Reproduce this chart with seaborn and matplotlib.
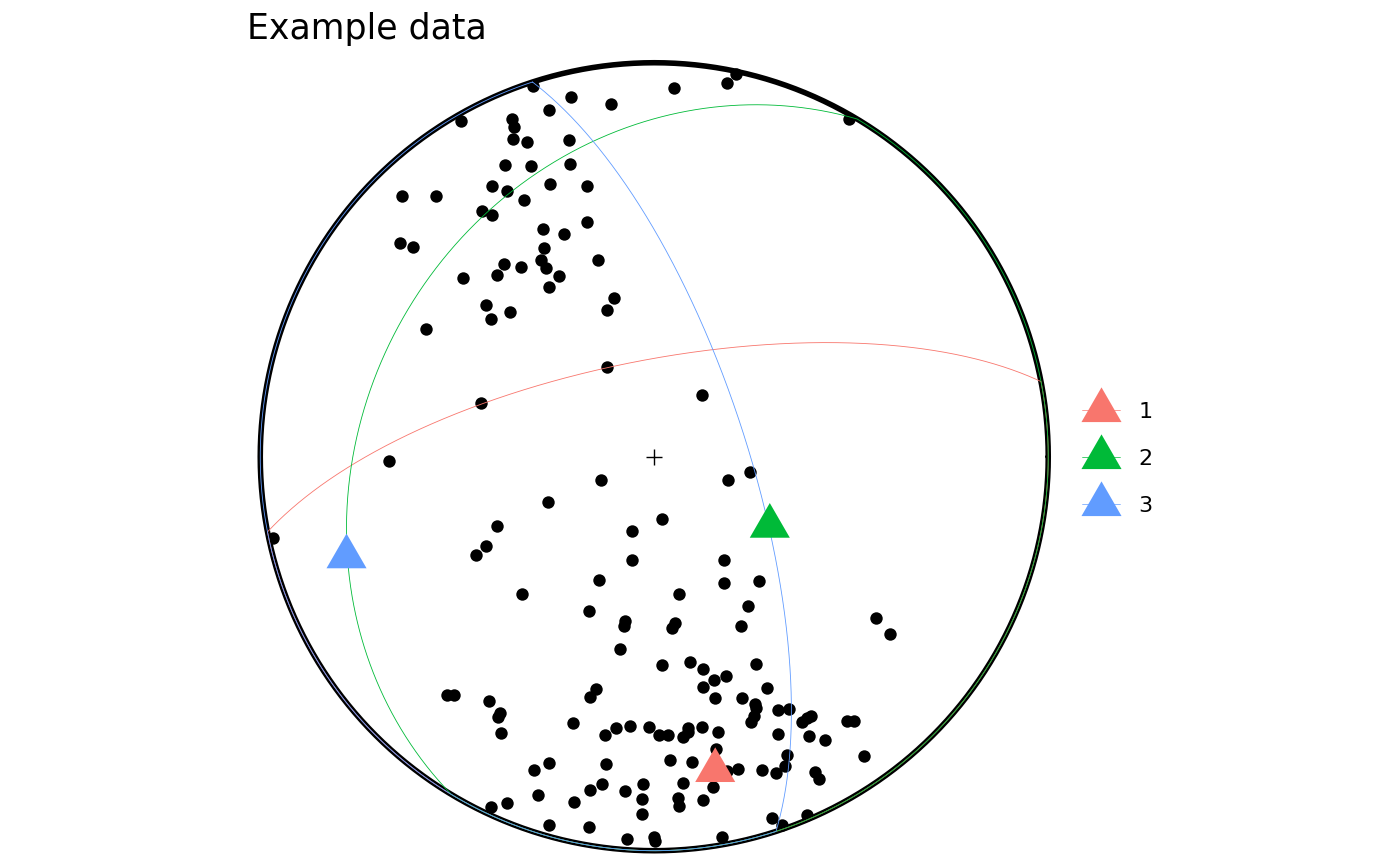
import numpy as np
import pandas as pd
import seaborn as sns
import matplotlib.pyplot as plt
from matplotlib.lines import Line2D
from matplotlib.markers import MarkerStyle

# lineations, equal-area lower hemisphere, unit primitive
proj_x = [
    -0.307, -0.211, -0.110, -0.268, -0.491, -0.362, -0.356, -0.358, -0.323, -0.216,
    -0.378, -0.313, -0.213, -0.412, -0.374, -0.265, -0.171, -0.639, -0.553, -0.331,
    -0.437, -0.413, -0.171, -0.282, -0.228, -0.645, -0.612, -0.281, -0.288, -0.276,
    -0.381, -0.337, -0.400, -0.243, -0.143, -0.486, -0.268, -0.427, -0.366, -0.414,
    -0.101, -0.120, -0.580, 0.050, 0.184, 0.207, 0.495,
    -0.121, -0.440, 0.122, -0.674, -0.135, 0.187, 0.243, -0.270, -0.399, -0.427,
    -0.453, 0.020, -0.057, -0.056, -0.140, -0.336, 0.178, 0.178, 0.266, 0.062,
    0.238, -0.166, -0.074, -0.076, 0.053, 0.046, 0.219, -0.967,
    -0.086, 0.019, -0.527, -0.508, -0.419, -0.392, -0.396, -0.389, -0.147, -0.163,
    -0.207, -0.097, -0.061, -0.125, -0.013, 0.011, 0.035, 0.040, -0.123, -0.267,
    -0.305, -0.132, -0.164, -0.074, -0.029, -0.030, -0.031, -0.203, -0.296, -0.374,
    -0.415, -0.268, -0.165, -0.068, 0.000, 0.001,
    0.563, 0.598, 0.092, 0.124, 0.182, 0.152, 0.257, 0.124, 0.153, 0.286,
    0.223, 0.255, 0.257, 0.252, 0.246, 0.314, 0.342, 0.376, 0.388, 0.398,
    0.488, 0.507, 0.313, 0.393, 0.433, 0.532, 0.338, 0.332, 0.408, 0.418,
    0.273, 0.309, 0.213, 0.184, 0.158, 0.162, 0.121, 0.086, 0.085, 0.074,
    0.095, 0.072, 0.148, 0.060, 0.063, 0.123, 0.299, 0.325, 0.388, 0.171,
]
proj_y = [
    0.941, 0.914, 0.894, 0.879, 0.852, 0.856, 0.838, 0.806, 0.799, 0.804,
    0.741, 0.738, 0.742, 0.687, 0.674, 0.691, 0.687, 0.662, 0.661, 0.651,
    0.624, 0.613, 0.596, 0.578, 0.566, 0.542, 0.533, 0.529, 0.499, 0.479,
    0.490, 0.481, 0.460, 0.459, 0.499, 0.454, 0.430, 0.386, 0.367, 0.349,
    0.402, 0.372, 0.323, 0.937, 0.948, 0.971, 0.857,
    0.228, 0.136, 0.156, -0.011, -0.059, -0.060, -0.038, -0.115, -0.177, -0.227,
    -0.250, -0.159, -0.188, -0.263, -0.312, -0.348, -0.263, -0.320, -0.315, -0.348,
    -0.380, -0.391, -0.417, -0.430, -0.421, -0.434, -0.430, -0.206,
    -0.488, -0.529, -0.604, -0.606, -0.621, -0.650, -0.660, -0.701, -0.590, -0.609,
    -0.676, -0.689, -0.683, -0.707, -0.686, -0.706, -0.706, -0.769, -0.781, -0.777,
    -0.794, -0.831, -0.845, -0.848, -0.831, -0.870, -0.908, -0.876, -0.859, -0.879,
    -0.890, -0.935, -0.941, -0.971, -0.964, -0.975,
    -0.409, -0.450, -0.521, -0.538, -0.557, -0.567, -0.526, -0.585, -0.612, -0.587,
    -0.613, -0.628, -0.637, -0.658, -0.674, -0.644, -0.641, -0.673, -0.663, -0.657,
    -0.672, -0.671, -0.703, -0.709, -0.720, -0.759, -0.756, -0.784, -0.799, -0.819,
    -0.795, -0.803, -0.793, -0.797, -0.741, -0.699, -0.685, -0.688, -0.698, -0.712,
    -0.775, -0.827, -0.839, -0.865, -0.887, -0.871, -0.917, -0.935, -0.909, -0.966,
]

# planes: dip direction / dip (degrees)
plane_ids = ["1", "2", "3"]
dip_dir = [349, 301, 72]
dip = [70, 28, 71]
plane_colors = ["#F8766D", "#00BA38", "#619CFF"]

TITLE = "Example data"


def schmidt(trend, plunge):
    t = np.radians(trend)
    p = np.radians(plunge)
    r = np.sqrt(2) * np.sin((np.pi / 2 - p) / 2)
    return r * np.sin(t), r * np.cos(t)


def great_circle(dd, d, n=1441):
    # full circle; the upper-hemisphere half ends up on the primitive
    th = np.linspace(0, 2 * np.pi, n)
    ddr, dr = np.radians(dd), np.radians(d)
    s = np.array([np.sin(ddr - np.pi / 2), np.cos(ddr - np.pi / 2), 0.0])
    dv = np.array([np.cos(dr) * np.sin(ddr), np.cos(dr) * np.cos(ddr), np.sin(dr)])
    v = np.outer(np.cos(th), s) + np.outer(np.sin(th), dv)
    phi = np.arccos(np.clip(v[:, 2], -1, 1))
    r = np.minimum(np.sqrt(2) * np.sin(phi / 2), 1.0)
    az = np.arctan2(v[:, 0], v[:, 1])
    return r * np.sin(az), r * np.cos(az)


sns.set_theme(style="white")
plt.rcParams["font.family"] = ["DejaVu Sans"]
plt.rcParams["text.color"] = "black"

fig = plt.figure(figsize=(14, 8.65), dpi=100)
L = 1.04
ax = fig.add_axes([0.17464, -0.0017, 0.58536, 0.9474])
ax.set_xlim(-L, L)
ax.set_ylim(-L, L)
ax.axis("off")

# primitive
t = np.linspace(0, 2 * np.pi, 721)
ax.plot(np.cos(t), np.sin(t), color="black", lw=4, zorder=1, clip_on=False)

pts = pd.DataFrame({"x": proj_x, "y": proj_y})
sns.scatterplot(data=pts, x="x", y="y", color="black", s=80, linewidth=0,
                ax=ax, zorder=3, legend=False)

for dd, d, c in zip(dip_dir, dip, plane_colors):
    gx, gy = great_circle(dd, d)
    ax.plot(gx, gy, color=c, lw=0.6, zorder=4, clip_on=False)

pole_x, pole_y = schmidt(np.array(dip_dir) + 180, 90 - np.array(dip))
poles = pd.DataFrame({"x": pole_x, "y": pole_y, "plane": plane_ids})
tri = MarkerStyle([(0, 0.577), (-0.5, -0.289), (0.5, -0.289)])
sns.scatterplot(data=poles, x="x", y="y", hue="plane", palette=plane_colors,
                marker=tri, s=1108, linewidth=0, ax=ax, zorder=5, legend=False)

ax.scatter([0], [0], marker="+", s=130, color="black", linewidth=1.0, zorder=6)

handles = [Line2D([0], [0], color=c, lw=0.5, marker=tri, markersize=33.3,
                  markeredgewidth=0) for c in plane_colors]
leg = fig.legend(handles, plane_ids, loc="center left",
                 bbox_to_anchor=(1082 / 1400, (865 - 459) / 865),
                 frameon=False, fontsize=16, handlelength=1.7, handletextpad=0.85,
                 labelspacing=1.22, borderpad=0, borderaxespad=0)
for txt in leg.get_texts():
    txt.set_color("black")

fig.text(247 / 1400, (865 - 39.5) / 865, TITLE, fontsize=25, va="baseline",
         ha="left", color="black")

fig.savefig("out.png", dpi=100)
